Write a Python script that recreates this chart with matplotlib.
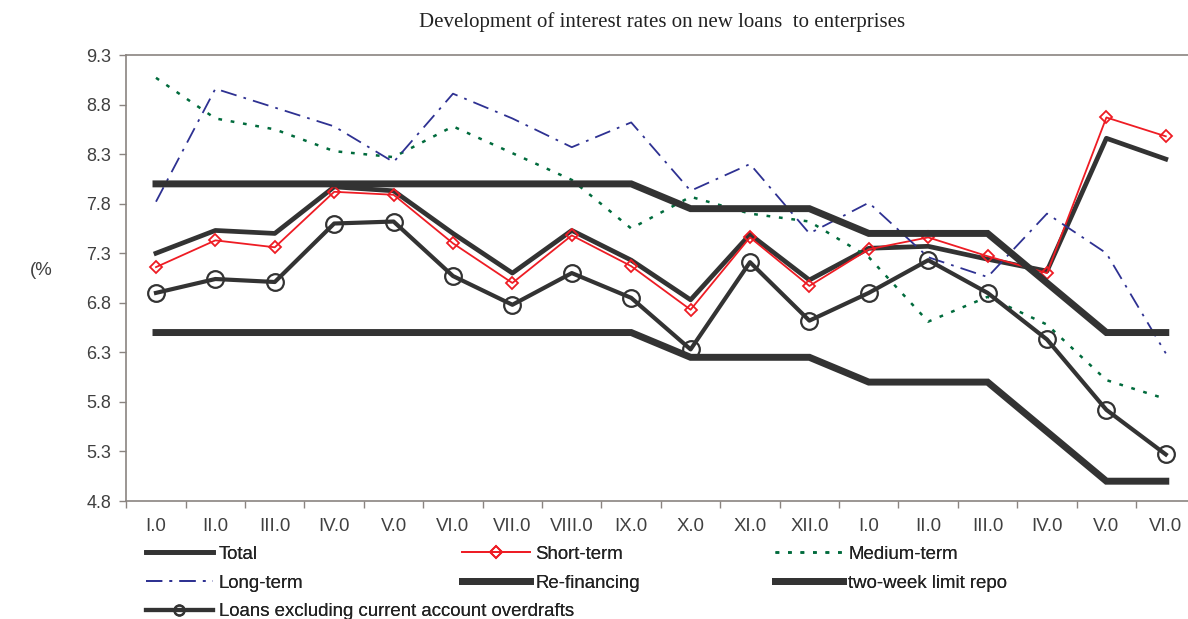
import numpy as np
import matplotlib
matplotlib.use("Agg")
import matplotlib.pyplot as plt

plt.rcParams['font.family'] = ['Liberation Sans', 'DejaVu Sans']

months = ["I.0", "II.0", "III.0", "IV.0", "V.0", "VI.0", "VII.0", "VIII.0", "IX.0",
          "X.0", "XI.0", "XII.0", "I.0", "II.0", "III.0", "IV.0", "V.0", "VI.0"]

total = [7.30, 7.53, 7.50, 7.97, 7.93, 7.50, 7.10, 7.53, 7.23,
         6.83, 7.49, 7.03, 7.35, 7.37, 7.24, 7.12, 8.46, 8.25]
short_term = [7.16, 7.43, 7.36, 7.92, 7.89, 7.40, 7.00, 7.48, 7.17,
              6.73, 7.46, 6.97, 7.34, 7.46, 7.27, 7.10, 8.67, 8.48]
medium_term = [9.07, 8.66, 8.55, 8.33, 8.27, 8.58, 8.31, 8.04, 7.55,
               7.87, 7.70, 7.62, 7.26, 6.61, 6.86, 6.58, 6.02, 5.83]
long_term = [7.82, 8.96, 8.77, 8.58, 8.22, 8.91, 8.66, 8.37, 8.62,
             7.93, 8.20, 7.50, 7.81, 7.26, 7.06, 7.70, 7.30, 6.29]
refinancing = [8.0, 8.0, 8.0, 8.0, 8.0, 8.0, 8.0, 8.0, 8.0,
               7.75, 7.75, 7.75, 7.5, 7.5, 7.5, 7.0, 6.5, 6.5]
repo = [6.5, 6.5, 6.5, 6.5, 6.5, 6.5, 6.5, 6.5, 6.5,
        6.25, 6.25, 6.25, 6.0, 6.0, 6.0, 5.5, 5.0, 5.0]
loans_excl = [6.90, 7.04, 7.01, 7.60, 7.62, 7.07, 6.78, 7.10, 6.85,
              6.33, 7.21, 6.62, 6.90, 7.23, 6.90, 6.43, 5.72, 5.27]

yticks = [4.8, 5.3, 5.8, 6.3, 6.8, 7.3, 7.8, 8.3, 8.8, 9.3]

dark = "#333333"
txt = "#404040"
spine_c = "#8a8480"
fs = 13.4

fig = plt.figure(figsize=(11.88, 6.19), dpi=100)
ax = fig.add_axes([0.1063, 0.1906, 0.900, 0.7205])

x = np.arange(len(months))

l_total, = ax.plot(x, total, color=dark, lw=3.4, label="Total")
l_short, = ax.plot(x, short_term, color="#ee1c24", lw=1.3, marker="D", ms=6.5,
                   mfc="none", mec="#ee1c24", mew=1.3, label="Short-term")
l_med, = ax.plot(x, medium_term, color="#006b3c", lw=1.8, ls=(0, (1.5, 3.5)),
                 label="Medium-term")
l_long, = ax.plot(x, long_term, color="#2e3192", lw=1.3, ls=(0, (9, 4, 1.5, 4)),
                  label="Long-term")
l_refi, = ax.plot(x, refinancing, color=dark, lw=5.0, solid_joinstyle="miter",
                  label="Re-financing")
l_repo, = ax.plot(x, repo, color=dark, lw=5.0, solid_joinstyle="miter",
                  label="two-week limit repo")
l_loans, = ax.plot(x, loans_excl, color=dark, lw=3.0, marker="o", ms=12,
                   mfc="none", mec=dark, mew=1.6,
                   label="Loans excluding current account overdrafts")

ax.set_xlim(-0.5, len(months) - 0.5)
ax.set_ylim(4.8, 9.3)
ax.set_yticks(yticks)
ax.set_yticklabels([f"{v:.1f}" for v in yticks])
ax.set_xticks(x)
ax.set_xticklabels(months)
ax.set_xticks(np.arange(-0.5, len(months)), minor=True)
ax.tick_params(axis="x", which="major", length=0, pad=12, labelsize=fs, colors=txt)
ax.tick_params(axis="x", which="minor", length=5, width=1, color=spine_c, direction="out")
ax.tick_params(axis="y", length=5, width=1, color=spine_c, pad=6, labelsize=13,
               labelcolor=txt)
for s in ["left", "top", "bottom", "right"]:
    ax.spines[s].set_color(spine_c)
    ax.spines[s].set_linewidth(1.2)

fig.text(0.557, 0.964, "Development of interest rates on new loans  to enterprises",
         ha="center", va="center", fontsize=15, family="Liberation Serif", color="#222222")
fig.text(0.025, 0.563, "(%", ha="left", va="center", fontsize=fs, color=txt)

# legend in three fixed columns, like the original layout
cols = [([l_total, l_long, l_loans], 0.1225, 0.6),
        ([l_short, l_refi], 0.389, 1.0),
        ([l_med, l_repo], 0.6525, 1.0)]
for handles, xpos, mscale in cols:
    leg = fig.legend(handles=handles, loc="upper left", bbox_to_anchor=(xpos, 0.118),
                     frameon=False, fontsize=fs, handlelength=3.64, handletextpad=0.3,
                     labelspacing=0.62, borderpad=0, borderaxespad=0,
                     markerscale=mscale, labelcolor="#222222")
    fig.add_artist(leg)

fig.savefig("out.png", dpi=100)
